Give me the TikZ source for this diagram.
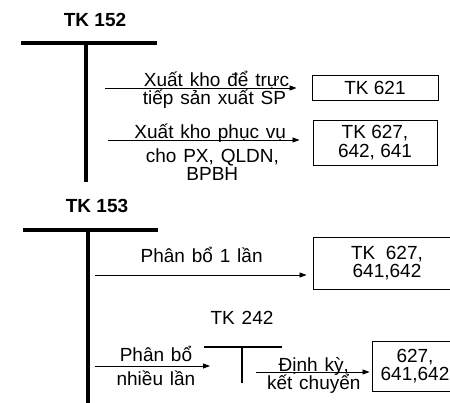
\documentclass[tikz,border=0pt]{standalone}
\usepackage{fontspec}
\setmainfont{Liberation Sans}
\newfontfamily\lblfont{Liberation Sans}[WordSpace=1.3]
\usetikzlibrary{arrows.meta, positioning}
\tikzset{
  every picture/.style={line width=0.8pt},
  acct/.style={line width=3.5pt},
  subacct/.style={line width=2.5pt},
  box/.style={draw, line width=0.9pt, inner sep=0pt, align=center, font=\fontsize{19}{18.5}\selectfont},
  arrow/.style={-{Triangle[length=7pt, width=5pt]}, line width=0.8pt},
  lbl/.style={inner sep=0pt, align=center, font=\lblfont\fontsize{19}{18}\selectfont},
  title/.style={inner sep=0pt, font=\bfseries\fontsize{19}{20}\selectfont},
}

\begin{document}
\begin{tikzpicture}[x=1pt, y=-1pt]
  \useasboundingbox (0,0) rectangle (450,403);
  \clip (0,0) rectangle (450,403);
  % TK 152
  \node[title, anchor=base] (tk152) at (95,27) {TK 152};
  \draw[acct] (21,43) -- (157,43);
  \draw[acct] (86,43) -- (86,182);
  \node[box, minimum width=126pt, minimum height=25pt] (tk621) at (375,87.5) {TK 621};
  \node[box, minimum width=124pt, minimum height=45pt] (tk627a) at (375,142.5) {TK 627,\\642, 641};
  \coordinate (s1) at (105,88);
  \coordinate (s2) at (108,140);
  \draw[arrow, shorten >=15pt] (s1) -- (s1 -| tk621.west)
    node[lbl, pos=0.54, anchor=base, yshift=1pt] {Xuất kho để trực}
    node[lbl, pos=0.53, anchor=base, yshift=-17pt] {tiếp sản xuất SP};
  \draw[arrow, shorten >=13pt] (s2) -- (s2 -| tk627a.west)
    node[lbl, pos=0.5, anchor=base, yshift=1pt] {Xuất kho phục vụ}
    node[lbl, pos=0.51, anchor=north, yshift=-8pt] {cho PX, QLDN,\\BPBH};
  % TK 153
  \node[title, anchor=base] (tk153) at (97,213) {TK 153};
  \draw[acct] (23,230) -- (158,230);
  \draw[acct] (88,230) -- (88,403);
  \node[box, minimum width=148pt, minimum height=52pt] (tk627b) at (387,263) {TK~~627,\\641,642};
  \coordinate (s3) at (95,275);
  \draw[arrow, shorten >=6pt] (s3) -- (s3 -| tk627b.west)
    node[lbl, pos=0.49, anchor=base, yshift=12pt] {Phân bổ 1 lần};
  % TK 242
  \node[lbl, anchor=base] (tk242) at (242,325) {TK 242};
  \draw[subacct] (204,347) -- (282,347);
  \draw[subacct] (242,347) -- (242,383);
  \coordinate (s4) at (95,366);
  \coordinate (e4) at (210,366);
  \draw[arrow] (s4) -- (e4)
    node[lbl, pos=0.53, anchor=base, yshift=4pt] {Phân bổ}
    node[lbl, pos=0.53, anchor=base, yshift=-19pt] {nhiều lần};
  \node[box, minimum width=86pt, minimum height=50pt] (tk627c) at (415,366) {627,\\641,642};
  \coordinate (s5) at (256,372);
  \draw[arrow, shorten >=2pt] (s5) -- (s5 -| tk627c.west)
    node[lbl, pos=0.5, anchor=base, yshift=1pt] {Định kỳ,}
    node[lbl, pos=0.5, anchor=base, yshift=-18pt] {kết chuyển};
\end{tikzpicture}
\end{document}
